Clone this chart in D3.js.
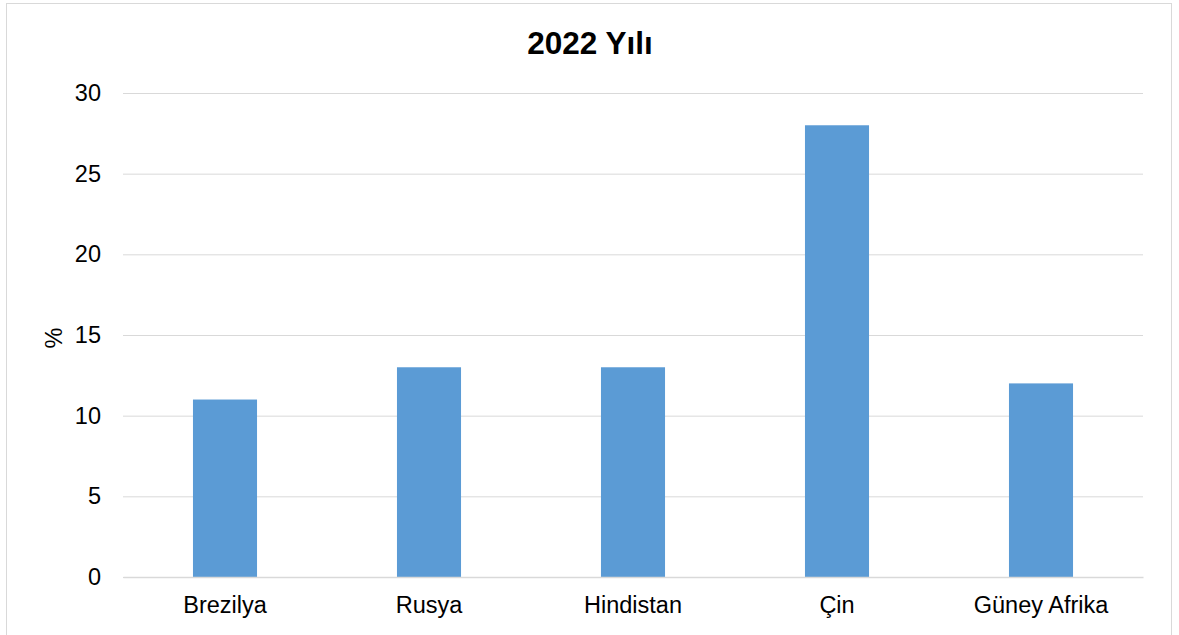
<!DOCTYPE html>
<html>
<head>
<meta charset="utf-8">
<script src="https://cdn.jsdelivr.net/npm/d3@7"></script>
<style>
  html, body { margin: 0; padding: 0; background: #fff; }
  svg { display: block; }
  text { font-family: "Liberation Sans", Arial, sans-serif; fill: #000; }
</style>
</head>
<body>
<svg id="chart" width="1179" height="635"></svg>
<script>
// Share of each country, percent
const categories = ["Brezilya", "Rusya", "Hindistan", "Çin", "Güney Afrika"];
const values = [11, 13, 13, 28, 12];
const yTicks = [0, 5, 10, 15, 20, 25, 30];
const title = "2022 Yılı";
const yLabel = "%";

const W = 1179, H = 635;
const margin = { top: 93, right: 36, bottom: 58, left: 123 };
const svg = d3.select("#chart");

// outer frame
svg.append("rect")
  .attr("x", 6.5).attr("y", 3.5)
  .attr("width", 1165).attr("height", 640)
  .attr("fill", "#fff")
  .attr("stroke", "#d9d9d9").attr("stroke-width", 1);

const x = d3.scaleBand()
  .domain(categories)
  .range([margin.left, W - margin.right])
  .paddingInner(0.686)
  .paddingOuter(0.343);

const y = d3.scaleLinear()
  .domain([0, 30])
  .range([H - margin.bottom, margin.top]);

// horizontal gridlines + value axis labels
const yAxis = d3.axisLeft(y)
  .tickValues(yTicks)
  .tickSize(-(W - margin.right - margin.left))
  .tickPadding(22)
  .tickFormat(d3.format("d"));

const gy = svg.append("g")
  .attr("transform", `translate(${margin.left},0)`)
  .call(yAxis);
gy.select(".domain").remove();
gy.selectAll(".tick line")
  .attr("stroke", "#d9d9d9").attr("stroke-width", 1);
gy.selectAll(".tick text")
  .attr("font-size", 23.5)
  .attr("font-family", "'Liberation Sans', Arial, sans-serif")
  .attr("fill", "#000");

// bars
svg.append("g").selectAll("rect")
  .data(values)
  .join("rect")
  .attr("x", (d, i) => x(categories[i]))
  .attr("y", d => y(d))
  .attr("width", x.bandwidth())
  .attr("height", d => y(0) - y(d))
  .attr("fill", "#5b9bd5");

// category axis
const xAxis = d3.axisBottom(x).tickSize(0).tickPadding(19);
const gx = svg.append("g")
  .attr("transform", `translate(0,${y(0)})`)
  .call(xAxis);
gx.select(".domain").attr("stroke", "#d9d9d9").attr("stroke-width", 1.5);
gx.selectAll(".tick text")
  .attr("font-size", 23.5)
  .attr("font-family", "'Liberation Sans', Arial, sans-serif")
  .attr("fill", "#000");

// title
svg.append("text")
  .attr("x", 590).attr("y", 54)
  .attr("text-anchor", "middle")
  .attr("font-size", 31.5)
  .attr("font-weight", "bold")
  .text(title);

// y axis label
svg.append("text")
  .attr("transform", `translate(62,338) rotate(-90)`)
  .attr("text-anchor", "middle")
  .attr("font-size", 23.5)
  .text(yLabel);
</script>
</body>
</html>
